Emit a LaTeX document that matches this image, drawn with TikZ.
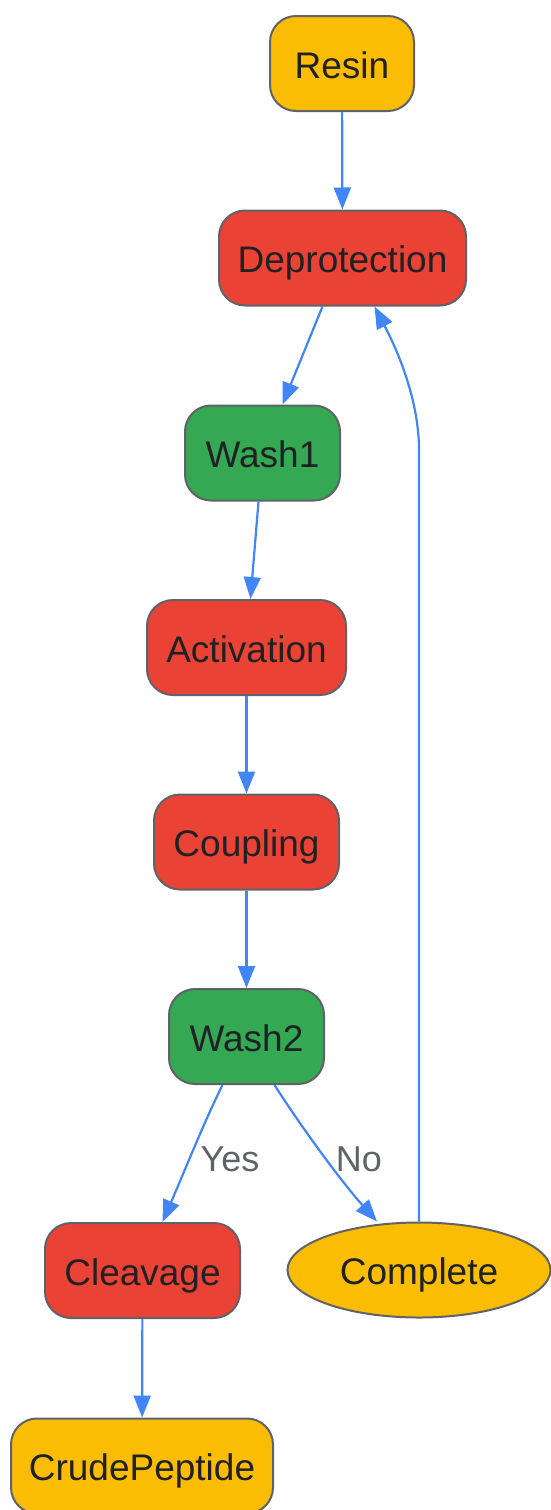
\documentclass[tikz,border=0pt]{standalone}
\usepackage{fontspec}
\setmainfont{Liberation Sans}
\usetikzlibrary{arrows.meta,shapes.geometric}
\definecolor{gyellow}{HTML}{FBBC04}
\definecolor{gred}{HTML}{EA4335}
\definecolor{ggreen}{HTML}{34A853}
\definecolor{gborder}{HTML}{5F6368}
\definecolor{gblue}{HTML}{4285F4}
\definecolor{gtext}{HTML}{202124}
\definecolor{glabel}{HTML}{5F6368}
\begin{document}
\begin{tikzpicture}[x=1pt,y=-1pt,
  box/.style={draw=gborder,line width=2pt,rounded corners=26pt,inner sep=0pt,
    minimum height=95pt,text height=33pt,text depth=4pt,text=gtext,font=\fontsize{37}{42}\selectfont},
  oval/.style={ellipse,draw=gborder,line width=2pt,inner sep=0pt,
    minimum height=95pt,text height=33pt,text depth=4pt,text=gtext,font=\fontsize{37}{42}\selectfont},
  flow/.style={draw=gblue,line width=2.2pt,-{Triangle[length=22pt,width=17pt]}},
  elabel/.style={text=glabel,text height=33pt,text depth=4pt,inner sep=0pt,font=\fontsize{36}{42}\selectfont}]
\useasboundingbox (0,0) rectangle (551,1510);
\node[box,fill=gyellow,minimum width=144pt] (resin) at (342,63.5) {Resin};
\node[box,fill=gred,minimum width=247pt] (deprot) at (342.5,258) {Deprotection};
\node[box,fill=ggreen,minimum width=155pt] (wash1) at (262.5,453) {Wash1};
\node[box,fill=gred,minimum width=199pt] (activ) at (246.5,647.5) {Activation};
\node[box,fill=gred,minimum width=185pt] (coupl) at (246.5,842) {Coupling};
\node[box,fill=ggreen,minimum width=155pt] (wash2) at (246.5,1036.5) {Wash2};
\node[box,fill=gred,minimum width=195pt] (cleav) at (142.5,1270.5) {Cleavage};
\node[oval,fill=gyellow,minimum width=263pt] (compl) at (419,1270) {Complete};
\node[box,fill=gyellow,minimum width=262pt] (crude) at (142,1466) {CrudePeptide};
\draw[flow] (resin) -- (deprot);
\draw[flow] ([xshift=-20pt]deprot.south) -- ([xshift=20pt]wash1.north);
\draw[flow] ([xshift=-4pt]wash1.south) -- ([xshift=4pt]activ.north);
\draw[flow] (activ) -- (coupl);
\draw[flow] (coupl) -- (wash2);
\draw[flow] ([xshift=-24pt]wash2.south) .. controls (205,1120) and (185,1170) .. ([xshift=20pt]cleav.north);
\draw[flow] ([xshift=28pt]wash2.south) .. controls (300,1125) and (340,1180) .. ([xshift=-42pt]compl.north);
\draw[flow] (compl.north) -- (419,450) .. controls (419,410) and (405,365) .. ([xshift=32pt]deprot.south);
\draw[flow] (cleav) -- (crude);
\node[elabel] (yes) at (230,1157) {Yes};
\node[elabel] (no) at (359,1157) {No};
\end{tikzpicture}
\end{document}
